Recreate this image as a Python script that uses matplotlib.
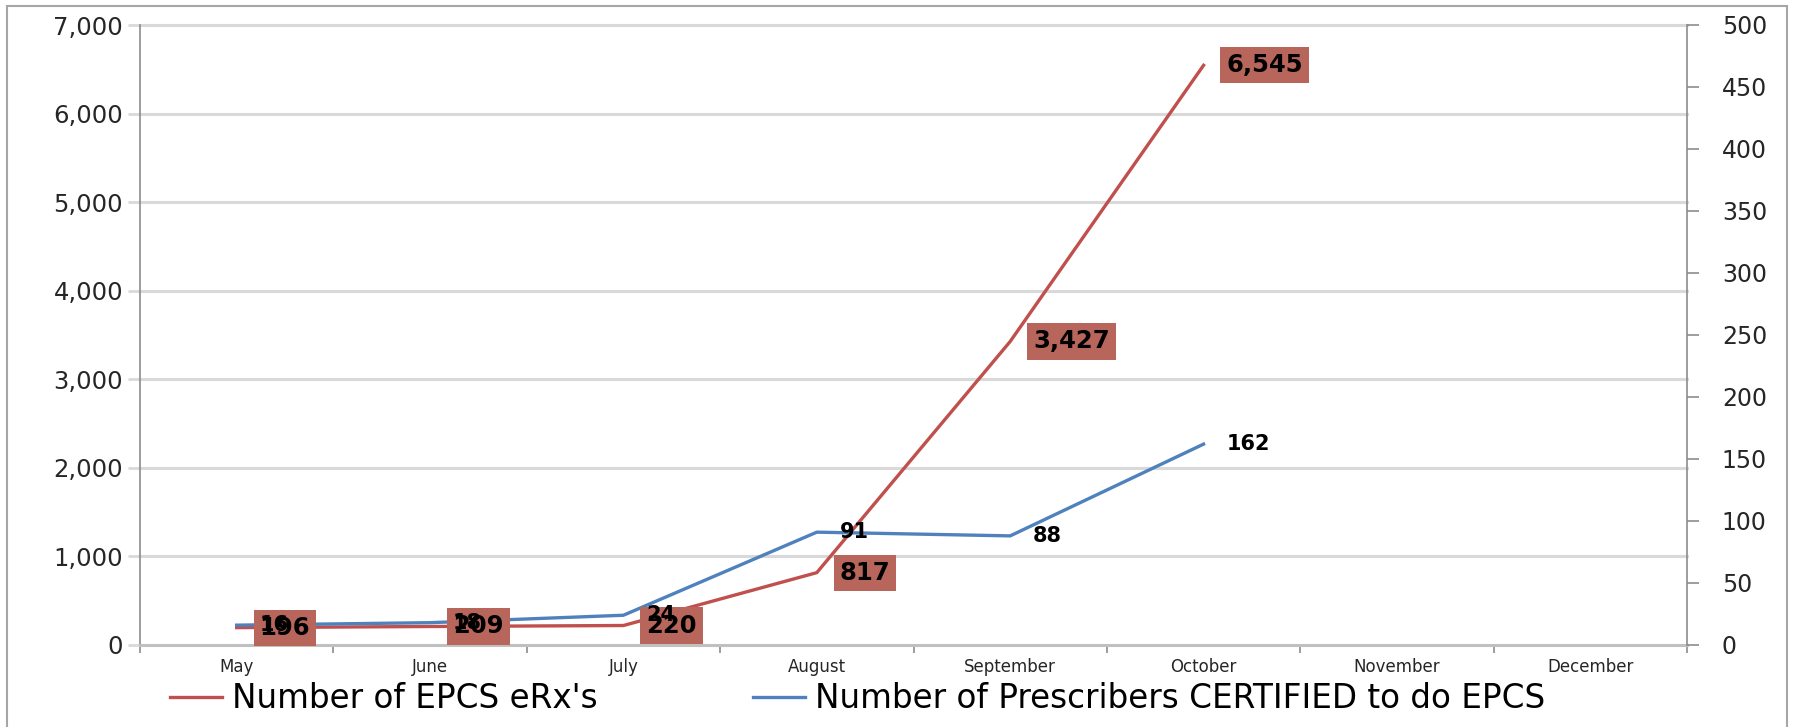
import matplotlib
matplotlib.use('Agg')
import matplotlib.pyplot as plt
import numpy as np
from matplotlib.patches import Rectangle
from matplotlib.lines import Line2D
from matplotlib.ticker import FuncFormatter

# ---- data ----
months = ['May', 'June', 'July', 'August', 'September', 'October', 'November', 'December']
erx = [196, 209, 220, 817, 3427, 6545]          # Number of EPCS eRx's (left axis)
prescribers = [16, 18, 24, 91, 88, 162]          # Number of Prescribers CERTIFIED (right axis)
left_ticks = [0, 1000, 2000, 3000, 4000, 5000, 6000, 7000]
right_ticks = [0, 50, 100, 150, 200, 250, 300, 350, 400, 450, 500]
series_names = ["Number of EPCS eRx's", "Number of Prescribers CERTIFIED to do EPCS"]

RED = '#C0504D'
BLUE = '#4F81BD'
BOX = '#B8665B'
GRID = '#D9D9D9'
AXIS = '#8C8C8C'
TXT = '#262626'

fig = plt.figure(figsize=(18, 7.27), dpi=100)
fig.patch.set_facecolor('white')
ax = fig.add_axes([140/1800, 82/727, 1547/1800, 620/727])
ax2 = ax.twinx()

pos = np.arange(len(months))
ax.set_xlim(-0.5, len(months) - 0.5)
ax.set_ylim(left_ticks[0], left_ticks[-1])
ax2.set_ylim(right_ticks[0], right_ticks[-1])

# grid
ax.set_yticks(left_ticks)
ax.yaxis.grid(True, color=GRID, lw=2.2)
ax.set_axisbelow(True)
for gl in ax.get_ygridlines():
    gl.set_clip_on(False)
ax.yaxis.set_major_formatter(FuncFormatter(lambda v, p: f'{int(v):,}'))
ax.tick_params(axis='y', length=8.6, width=2, color=GRID, pad=3.5,
               labelsize=17.5, labelcolor=TXT)

ax2.set_yticks(right_ticks)
ax2.tick_params(axis='y', length=8.6, width=1.2, color=AXIS, pad=16.5,
                labelsize=17, labelcolor=TXT)

# x axis
ax.set_xticks(pos)
ax.set_xticklabels(months)
ax.set_xticks(np.arange(len(months) + 1) - 0.5, minor=True)
ax.tick_params(axis='x', which='major', length=0, pad=9, labelsize=12, labelcolor=TXT)
ax.tick_params(axis='x', which='minor', length=5.8, width=1.2, color=AXIS)

# spines
for a in (ax, ax2):
    a.spines['top'].set_visible(False)
ax.spines['right'].set_visible(False)
ax.spines['left'].set_color(AXIS)
ax.spines['left'].set_linewidth(1.2)
ax.spines['bottom'].set_color('#BFBFBF')
ax.spines['bottom'].set_linewidth(2)
ax2.spines['left'].set_visible(False)
ax2.spines['bottom'].set_visible(False)
ax2.spines['right'].set_color(AXIS)
ax2.spines['right'].set_linewidth(1.2)

# lines
ax.plot(pos[:len(erx)], erx, color=RED, lw=2.4, zorder=3)
ax2.plot(pos[:len(prescribers)], prescribers, color=BLUE, lw=2.4, zorder=2)

# data labels
for xi, v in zip(pos, erx):
    ax2.annotate(f'{v:,}', xy=(xi, v), xycoords=ax.transData,
                 xytext=(16.5, 0), textcoords='offset points',
                 ha='left', va='center', fontsize=17.5, fontweight='bold', color='black',
                 bbox=dict(boxstyle='square,pad=0.25', fc=BOX, ec='none'), zorder=3)
for xi, v in zip(pos, prescribers):
    ax2.annotate(f'{v:,}', xy=(xi, v), xycoords=ax2.transData,
                 xytext=(16.5, 0), textcoords='offset points',
                 ha='left', va='center', fontsize=15, fontweight='bold', color='black',
                 zorder=4)

# legend
handles = [Line2D([], [], color=RED, lw=2.4), Line2D([], [], color=BLUE, lw=2.4)]
fig.legend(handles, series_names, loc='center left',
           bbox_to_anchor=(170/1800, 28/727), ncol=2, frameon=False,
           fontsize=23.5, handlelength=1.6, handletextpad=0.3, columnspacing=4.75,
           borderpad=0, borderaxespad=0)

# figure border
fig.add_artist(Rectangle((7/1800, -0.02), (1787-7)/1800, 1 - 6/727 + 0.02,
                         transform=fig.transFigure, fill=False,
                         ec='#A6A6A6', lw=1.5))

fig.savefig('out.png', dpi=100)
